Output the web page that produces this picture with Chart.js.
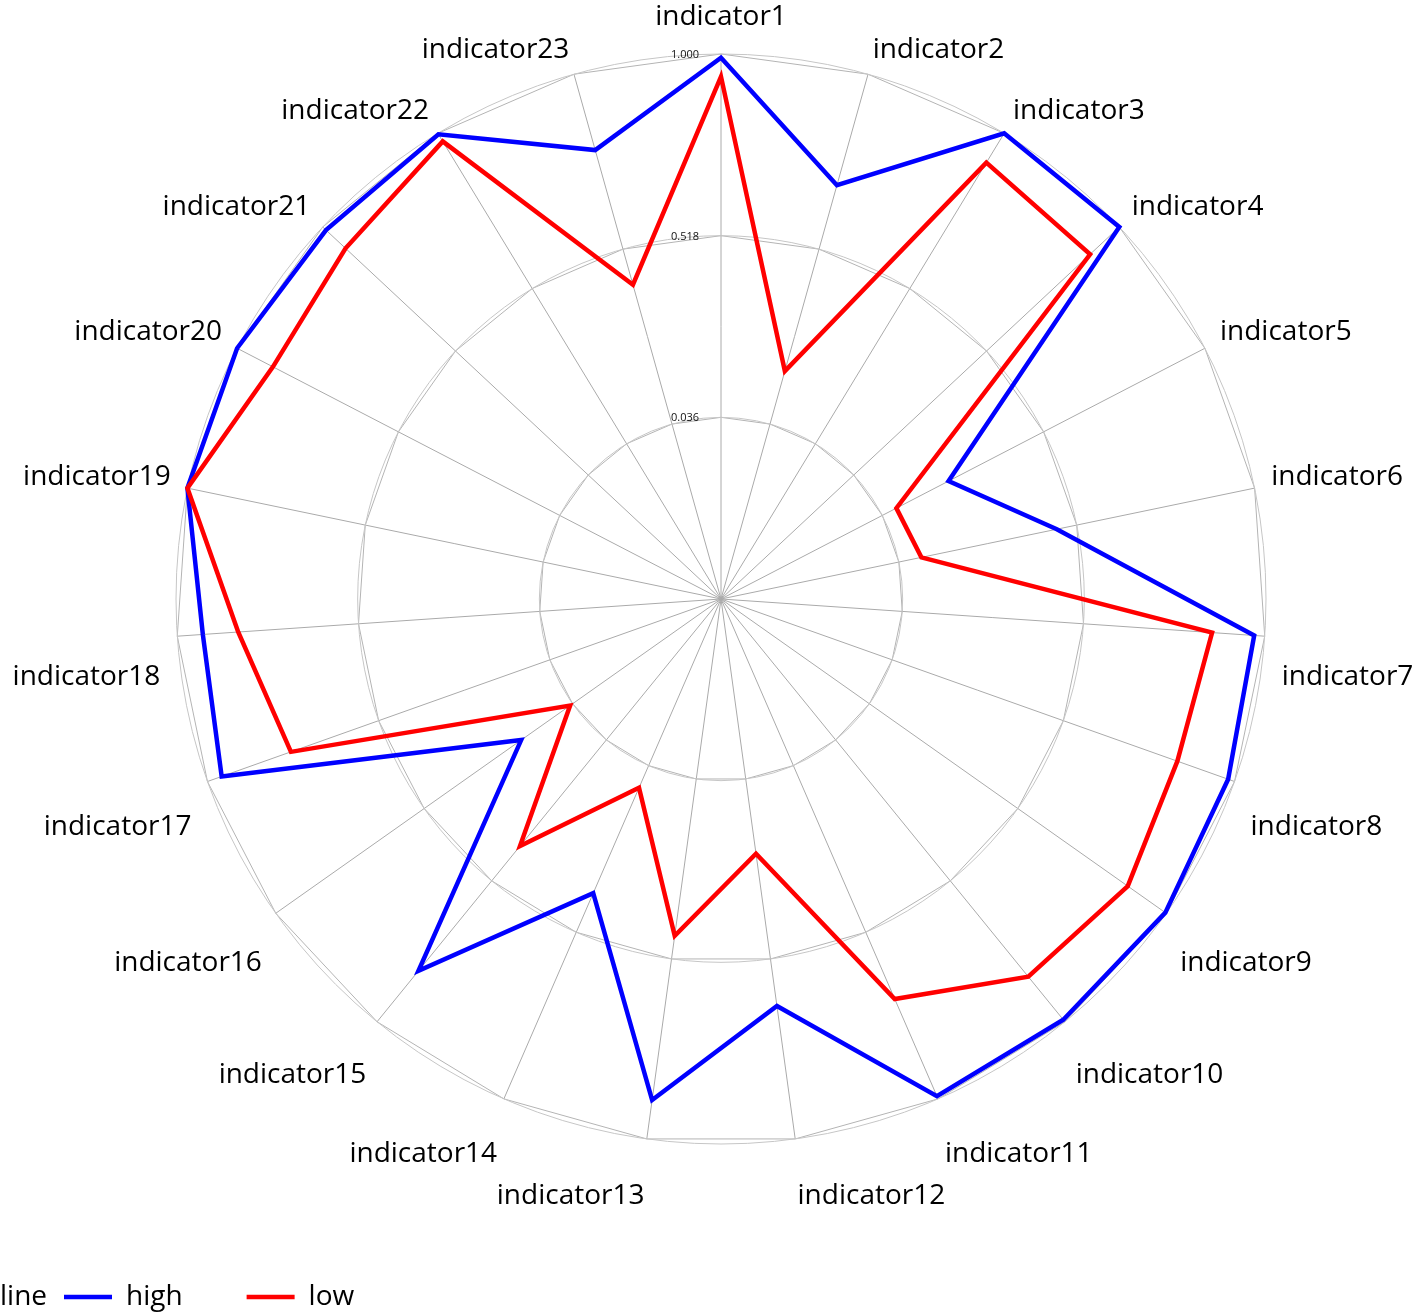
<!DOCTYPE html>
<html>
<head>
<meta charset="utf-8">
<script src="https://cdn.jsdelivr.net/npm/chart.js@4.4.1/dist/chart.umd.min.js"></script>
<style>
  html, body { margin: 0; padding: 0; background: #ffffff; }
  #wrap { position: relative; width: 1418px; height: 1315px; }
</style>
</head>
<body>
<div id="wrap"><canvas id="chart"></canvas></div>
<script>
// ---- data ----
const categories = ['indicator1','indicator2','indicator3','indicator4','indicator5','indicator6','indicator7','indicator8','indicator9','indicator10','indicator11','indicator12','indicator13','indicator14','indicator15','indicator16','indicator17','indicator18','indicator19','indicator20','indicator21','indicator22','indicator23'];
const highValues = [0.990, 0.694, 1.000, 1.000, 0.234, 0.464, 0.972, 0.982, 0.997, 0.993, 0.992, 0.644, 0.896, 0.405, 0.826, 0.203, 0.960, 0.932, 1.000, 1.000, 0.988, 0.997, 0.791];
const lowValues  = [0.940, 0.182, 0.909, 0.894, 0.078, 0.097, 0.860, 0.839, 0.875, 0.846, 0.711, 0.236, 0.456, 0.100, 0.399, 0.044, 0.765, 0.838, 1.000, 0.893, 0.917, 0.975, 0.420];
const tickValues = [-0.446, 0.036, 0.518, 1.000];
const seriesNames = ['high', 'low'];
const legendTitle = 'line';

const FONT = '"Open Sans", "Noto Sans", sans-serif';
Chart.defaults.font.family = FONT;
Chart.defaults.color = '#000000';

const setTicks = (scale) => { scale.ticks = tickValues.map(v => ({ value: v })); };

// indicator names and tick labels, placed with the radial scale's own geometry
const labelPlugin = {
  id: 'indicatorLabels',
  afterLayout(chart) {
    const lg = chart.legend;
    if (lg) { lg.left = 0; lg.top += 6; }
  },
  afterDraw(chart) {
    const s = chart.scales.r;
    const ctx = chart.ctx;
    ctx.save();
    ctx.fillStyle = '#000000';
    ctx.textBaseline = 'middle';
    ctx.font = '28px ' + FONT;
    chart.data.labels.forEach((lab, i) => {
      const a = s.getIndexAngle(i);
      const p = s.getPointPosition(i, s.drawingArea + 17);
      const sn = Math.sin(a), cs = Math.cos(a);
      ctx.textAlign = Math.abs(sn) < 1e-6 ? 'center' : (sn > 0 ? 'left' : 'right');
      const dy = Math.abs(sn) < 1e-6 ? -20 : (cs > 0 ? -8 : 40);
      ctx.fillText(lab, p.x, p.y + dy);
    });
    ctx.font = '11px ' + FONT;
    ctx.fillStyle = '#111111';
    ctx.textAlign = 'right';
    s.ticks.forEach((t, i) => {
      if (i === 0) return;
      const d = s.getDistanceFromCenterForValue(t.value);
      ctx.fillText(t.value.toFixed(3), s.xCenter - 22, s.yCenter - d + 1);
    });
    ctx.restore();
  }
};

new Chart(document.getElementById('chart'), {
  type: 'radar',
  data: {
    labels: categories,
    datasets: [
      { label: seriesNames[0], data: highValues, borderColor: '#0000ff', backgroundColor: 'rgba(0,0,0,0)', borderWidth: 4.5, pointRadius: 0, pointHoverRadius: 0, fill: false, order: 1 },
      { label: seriesNames[1], data: lowValues, borderColor: '#ff0000', backgroundColor: 'rgba(0,0,0,0)', borderWidth: 4.5, pointRadius: 0, pointHoverRadius: 0, fill: false, order: 0 }
    ]
  },
  options: {
    responsive: true,
    maintainAspectRatio: false,
    animation: false,
    layout: { padding: { left: 24, top: 54, right: 0, bottom: 0 } },
    elements: { line: { tension: 0, borderJoinStyle: 'miter' } },
    scales: {
      r: {
        min: tickValues[0],
        max: tickValues[tickValues.length - 1],
        afterBuildTicks: setTicks,
        grid: { circular: false, color: '#b4b4b4', lineWidth: 1 },
        angleLines: { display: true, color: '#aaaaaa', lineWidth: 1 },
        pointLabels: { display: false },
        ticks: { display: false }
      },
      r2: {
        type: 'radialLinear',
        axis: 'r',
        min: tickValues[0],
        max: tickValues[tickValues.length - 1],
        afterBuildTicks: setTicks,
        grid: { circular: true, color: '#c6c6c6', lineWidth: 1 },
        angleLines: { display: false },
        pointLabels: { display: false },
        ticks: { display: false }
      }
    },
    plugins: {
      tooltip: { enabled: false },
      legend: {
        display: true,
        position: 'bottom',
        align: 'start',
        title: {
          display: true,
          text: legendTitle,
          position: 'start',
          color: '#000000',
          font: { size: 28, family: FONT },
          padding: { top: 133, bottom: -97.6 }
        },
        labels: {
          usePointStyle: true,
          pointStyle: 'line',
          pointStyleWidth: 48,
          padding: 64,
          color: '#000000',
          font: { size: 28, family: FONT },
          sort: (a, b) => a.datasetIndex - b.datasetIndex
        }
      }
    }
  },
  plugins: [labelPlugin]
});
</script>
</body>
</html>
